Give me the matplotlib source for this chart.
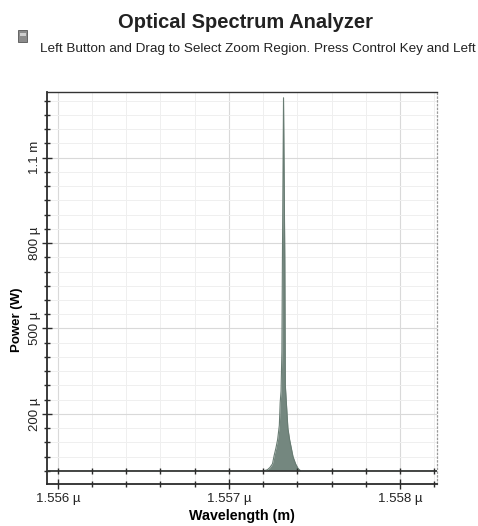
import matplotlib
matplotlib.use("Agg")
import matplotlib.pyplot as plt
from matplotlib.patches import Rectangle
from matplotlib.ticker import FixedLocator, MultipleLocator

plt.rcParams["font.family"] = ["Liberation Sans", "DejaVu Sans"]

# spectrum (wavelength in nm, power in uW)
wavelength_nm = [1555.94, 1557.20, 1557.225, 1557.24, 1557.255, 1557.265,
                 1557.275, 1557.285, 1557.295, 1557.300, 1557.305, 1557.310,
                 1557.313, 1557.3195, 1557.327, 1557.330, 1557.335, 1557.340,
                 1557.345, 1557.355, 1557.365, 1557.375, 1557.39, 1557.405,
                 1557.42, 1558.22]
power_uW = [0, 0, 4, 12, 25, 55, 80, 110, 160, 240, 280, 420, 740, 1310,
            740, 300, 250, 200, 150, 110, 80, 50, 25, 8, 0, 0]

ytick_vals = [200e-6, 500e-6, 800e-6, 1.1e-3]
ytick_text = ["200 µ", "500 µ", "800 µ", "1.1 m"]
xtick_vals = [1.556e-6, 1.557e-6, 1.558e-6]
xtick_text = ["1.556 µ", "1.557 µ", "1.558 µ"]

FILL = "#74877f"
DARK = "#2b2b2b"

x = [w * 1e-9 for w in wavelength_nm]
y = [p * 1e-6 for p in power_uW]

fig = plt.figure(figsize=(4.78, 5.26), dpi=100)
ax = fig.add_axes([0.098, 0.080, 0.816, 0.745])

ax.fill_between(x, y, 0, color=FILL, lw=0, zorder=3)
ax.plot(x, y, color="#687c73", lw=0.8, zorder=4)
ax.axhline(0, color=DARK, lw=1.1, zorder=5)
# tick marks along the zero line
base_ticks = [1.5560e-6 + k * 0.2e-9 for k in range(12)]
ax.plot(base_ticks, [0] * len(base_ticks), ls="none", marker="|",
        ms=5, color=DARK, zorder=6)

ax.set_xlim(1555.936e-9, 1558.216e-9)
ax.set_ylim(-45.6e-6, 1.33e-3)

ax.xaxis.set_major_locator(FixedLocator(xtick_vals))
ax.set_xticklabels(xtick_text)
ax.xaxis.set_minor_locator(MultipleLocator(0.2e-9))
ax.yaxis.set_major_locator(FixedLocator(ytick_vals))
ax.set_yticklabels(ytick_text, rotation=90, va="center")
ax.yaxis.set_minor_locator(MultipleLocator(50e-6))

ax.tick_params(axis="both", which="both", direction="inout", color=DARK,
               labelsize=9.5, labelcolor="#222222", width=1.0)
ax.tick_params(axis="both", which="major", length=7, pad=3)
ax.tick_params(axis="y", which="major", pad=1)
ax.tick_params(axis="both", which="minor", length=5)

ax.grid(True, which="major", color="#d9d9d9", lw=0.8, zorder=0)
ax.grid(True, which="minor", color="#efefef", lw=0.7, zorder=0)

for side in ("left", "bottom"):
    ax.spines[side].set_color(DARK)
    ax.spines[side].set_linewidth(1.3)
ax.spines["top"].set_color("#333333")
ax.spines["top"].set_linestyle((0, (2, 1)))
ax.spines["top"].set_linewidth(1.0)
ax.spines["right"].set_color("#9a9a9a")
ax.spines["right"].set_linestyle((0, (1, 2)))
ax.spines["right"].set_linewidth(0.9)

ax.set_xlabel("Wavelength (m)", fontsize=10.3, fontweight="bold", labelpad=3)
ax.set_ylabel("Power (W)", fontsize=9.5, fontweight="bold")
ax.yaxis.set_label_coords(-0.062, 0.42)

fig.text(0.513, 0.957, "Optical Spectrum Analyzer", ha="center", va="center",
         fontsize=14.5, fontweight="bold", color="#222222")
fig.text(0.083, 0.907,
         "Left Button and Drag to Select Zoom Region. Press Control Key and Left",
         ha="left", va="center", fontsize=9.7, color="#222222")

# small window icon at the top left
fig.patches.append(Rectangle((18 / 478, 1 - 42 / 526), 9 / 478, 12 / 526,
                             transform=fig.transFigure, facecolor="#8c8c8c",
                             edgecolor="#555555", lw=0.6))
fig.patches.append(Rectangle((19.5 / 478, 1 - 36 / 526), 6 / 478, 3 / 526,
                             transform=fig.transFigure, facecolor="#d0d0d0",
                             edgecolor="none"))

fig.savefig("out.png", dpi=100)
